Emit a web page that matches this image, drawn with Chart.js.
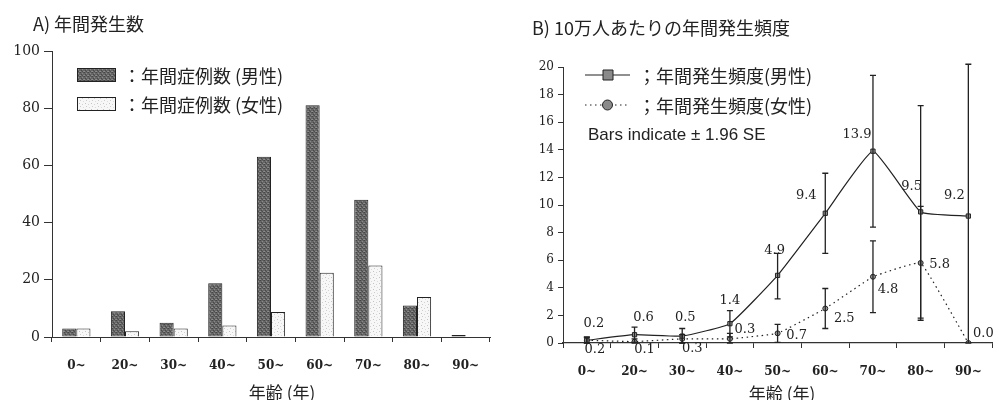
<!DOCTYPE html>
<html>
<head>
<meta charset="utf-8">
<script src="https://cdn.jsdelivr.net/npm/chart.js@4.4.1/dist/chart.umd.min.js"></script>
<style>
  body { margin: 0; background: #fff; }
  #wrap { position: relative; width: 999px; height: 400px; overflow: hidden; background: #fff; }
  #wrap canvas { position: absolute; top: 0; }
  .txt { position: absolute; font-family: "Noto Sans CJK JP", sans-serif; color: #222; white-space: nowrap; line-height: 1; }
</style>
</head>
<body>
<div id="wrap">
  <canvas id="countChart" width="500" height="400" style="left:0"></canvas>
  <canvas id="rateChart" width="499" height="400" style="left:500px"></canvas>
  <div class="txt" style="left:33px;top:14px;font-size:18px">A) 年間発生数</div>
  <div class="txt" style="left:532px;top:18px;font-size:18px">B) 10万人あたりの年間発生頻度</div>
  <div class="txt" style="left:282px;top:383px;font-size:17px;transform:translateX(-50%)">年齢 (年)</div>
  <div class="txt" style="left:782px;top:384px;font-size:17px;transform:translateX(-50%)">年齢 (年)</div>
</div>
<script>
// Age groups shared by both panels
const ageGroups = ['0~', '20~', '30~', '40~', '50~', '60~', '70~', '80~', '90~'];

// Panel A: annual number of cases
const maleCases   = [3, 9, 5, 18.8, 63, 81, 48, 11, 0.7];
const femaleCases = [3, 2, 3, 4, 8.7, 22.5, 25, 14, 0];
const countTicks  = [0, 20, 40, 60, 80, 100];

// Panel B: annual incidence per 100,000 with ±1.96 SE bounds
const maleRate      = [0.2, 0.6, 0.5, 1.4, 4.9, 9.4, 13.9, 9.5, 9.2];
const maleRateLow   = [0.0, 0.05, 0.0, 0.45, 3.2, 6.5, 8.4, 1.8, 0.0];
const maleRateHigh  = [0.45, 1.15, 1.05, 2.35, 6.5, 12.3, 19.4, 17.2, 20.2];
const femaleRate     = [0.2, 0.1, 0.3, 0.3, 0.7, 2.5, 4.8, 5.8, 0.0];
const femaleRateLow  = [0.0, 0.0, 0.0, 0.0, 0.05, 1.05, 2.2, 1.65, null];
const femaleRateHigh = [0.4, 0.3, 0.6, 0.7, 1.35, 3.95, 7.4, 9.9, null];
const rateTicks = [0, 2, 4, 6, 8, 10, 12, 14, 16, 18, 20];

// Where each value label sits relative to its point (dx, dy in px)
const maleLabelShift   = [[7,-17],[9,-17],[3,-18],[0,-23],[-3,-25],[-19,-18],[-16,-17],[-9,-25],[-14,-20]];
const femaleLabelShift = [[8,9],[10,8],[10,10],[15,-9],[19,2],[19,10],[15,13],[19,2],[15,-9]];

const INK = '#222';
const SERIF = 'DejaVu Serif';
const CJK = '"Noto Sans CJK JP"';

// Stippled fills imitating the halftone bar shading
function stipple(base, size, dots) {
  const c = document.createElement('canvas');
  c.width = c.height = size;
  const g = c.getContext('2d');
  g.fillStyle = base;
  g.fillRect(0, 0, size, size);
  dots.forEach(([x, y, col]) => { g.fillStyle = col; g.fillRect(x, y, 1, 1); });
  return g.createPattern(c, 'repeat');
}
const maleFill = stipple('#666', 4, [[0,0,'#454545'],[2,1,'#8a8a8a'],[1,2,'#484848'],[3,3,'#848484'],[3,0,'#555'],[0,3,'#8e8e8e'],[2,3,'#4e4e4e']]);
const femaleFill = stipple('#f7f7f7', 6, [[1,1,'#c4c4c4'],[4,2,'#d2d2d2'],[2,4,'#cccccc'],[5,5,'#dcdcdc']]);

// Hand-placed legend for panel A
const countLegend = {
  id: 'countLegend',
  afterDraw(chart, args, opts) {
    const ctx = chart.ctx;
    ctx.save();
    chart.data.datasets.forEach((ds, i) => {
      const y = opts.y + i * opts.gap;
      ctx.fillStyle = ds.backgroundColor;
      ctx.fillRect(opts.x, y - 6.5, 38, 13);
      ctx.strokeStyle = INK;
      ctx.lineWidth = 1;
      ctx.strokeRect(opts.x + 0.5, y - 6.5, 38, 13);
      ctx.fillStyle = INK;
      ctx.font = '18px ' + CJK;
      ctx.textBaseline = 'middle';
      ctx.fillText(ds.label, opts.x + 46, y + 1);
    });
    ctx.restore();
  }
};

// Hand-placed legend for panel B
const rateLegend = {
  id: 'rateLegend',
  afterDraw(chart, args, opts) {
    const ctx = chart.ctx;
    ctx.save();
    chart.data.datasets.forEach((ds, i) => {
      const y = opts.y + i * opts.gap;
      ctx.strokeStyle = INK;
      ctx.lineWidth = 1.2;
      ctx.setLineDash(ds.borderDash || []);
      ctx.beginPath();
      ctx.moveTo(opts.x, y);
      ctx.lineTo(opts.x + 45, y);
      ctx.stroke();
      ctx.setLineDash([]);
      ctx.fillStyle = '#8a8a8a';
      ctx.beginPath();
      if (ds.pointStyle === 'rect') ctx.rect(opts.x + 18, y - 5, 10, 10);
      else ctx.arc(opts.x + 22.5, y, 5, 0, Math.PI * 2);
      ctx.fill();
      ctx.lineWidth = 1;
      ctx.stroke();
      ctx.fillStyle = INK;
      ctx.font = '18px ' + CJK;
      ctx.textBaseline = 'middle';
      ctx.fillText(ds.label, opts.x + 53, y + 1);
    });
    ctx.font = '17px "Liberation Sans"';
    ctx.textBaseline = 'middle';
    ctx.fillText(opts.note, opts.x + 3, opts.y + 2 * opts.gap);
    ctx.restore();
  }
};

// ±1.96 SE whiskers
const errorBars = {
  id: 'errorBars',
  afterDatasetsDraw(chart, args, opts) {
    const ctx = chart.ctx;
    const ys = chart.scales.y;
    ctx.save();
    ctx.strokeStyle = INK;
    ctx.lineWidth = 1.3;
    opts.sets.forEach(set => {
      const meta = chart.getDatasetMeta(set.dataset);
      meta.data.forEach((pt, i) => {
        if (set.low[i] == null || set.high[i] == null) return;
        const yl = ys.getPixelForValue(set.low[i]);
        const yh = ys.getPixelForValue(set.high[i]);
        ctx.beginPath();
        ctx.moveTo(pt.x, yl); ctx.lineTo(pt.x, yh);
        ctx.moveTo(pt.x - 3, yl); ctx.lineTo(pt.x + 3, yl);
        ctx.moveTo(pt.x - 3, yh); ctx.lineTo(pt.x + 3, yh);
        ctx.stroke();
      });
    });
    ctx.restore();
  }
};

// Value labels next to each point
const valueLabels = {
  id: 'valueLabels',
  afterDraw(chart, args, opts) {
    const ctx = chart.ctx;
    ctx.save();
    ctx.fillStyle = INK;
    ctx.font = '13px ' + SERIF;
    ctx.textAlign = 'center';
    ctx.textBaseline = 'middle';
    opts.sets.forEach(set => {
      const meta = chart.getDatasetMeta(set.dataset);
      const values = chart.data.datasets[set.dataset].data;
      meta.data.forEach((pt, i) => {
        const [dx, dy] = set.shift[i];
        ctx.fillText(values[i].toFixed(1), pt.x + dx, pt.y + dy);
      });
    });
    ctx.restore();
  }
};

Chart.defaults.animation = false;
Chart.defaults.color = INK;

new Chart(document.getElementById('countChart'), {
  type: 'bar',
  data: {
    labels: ageGroups,
    datasets: [
      { label: '：年間症例数 (男性)', data: maleCases, backgroundColor: maleFill, borderColor: INK, borderWidth: 1, borderSkipped: false },
      { label: '：年間症例数 (女性)', data: femaleCases, backgroundColor: femaleFill, borderColor: INK, borderWidth: 1 }
    ]
  },
  options: {
    responsive: false,
    devicePixelRatio: 1,
    layout: { padding: { top: 51, right: 10, left: 0, bottom: 0 } },
    datasets: { bar: { categoryPercentage: 0.58, barPercentage: 1.0 } },
    plugins: {
      legend: { display: false },
      tooltip: { enabled: false },
      countLegend: { x: 77, y: 75, gap: 29 }
    },
    scales: {
      x: {
        grid: { offset: true, drawOnChartArea: false, tickLength: 5, color: '#333' },
        border: { color: '#333', width: 1 },
        ticks: { font: { family: SERIF, size: 12, weight: 'bold' }, color: INK, padding: 17, maxRotation: 0, autoSkip: false },
        afterFit(s) { s.height = 63; }
      },
      y: {
        min: 0, max: 100,
        afterBuildTicks(s) { s.ticks = countTicks.map(v => ({ value: v })); },
        grid: { drawOnChartArea: false, tickLength: 8, color: '#333' },
        border: { color: '#333', width: 1 },
        ticks: { font: { family: SERIF, size: 14 }, color: INK, padding: 4 },
        afterFit(s) { s.width = 52; }
      }
    }
  },
  plugins: [countLegend]
});

new Chart(document.getElementById('rateChart'), {
  type: 'line',
  data: {
    labels: ageGroups,
    datasets: [
      { label: '；年間発生頻度(男性)', data: maleRate, borderColor: INK, borderWidth: 1.2, tension: 0.12,
        pointStyle: 'rect', pointRadius: 3, pointBackgroundColor: '#999', pointBorderColor: INK, pointBorderWidth: 1 },
      { label: '；年間発生頻度(女性)', data: femaleRate, borderColor: INK, borderWidth: 1.2, borderDash: [1.5, 3.5], tension: 0.08,
        pointStyle: 'circle', pointRadius: 2.5, pointBackgroundColor: '#999', pointBorderColor: INK, pointBorderWidth: 1 }
    ]
  },
  options: {
    responsive: false,
    devicePixelRatio: 1,
    layout: { padding: { top: 67, right: 0, left: 0, bottom: 0 } },
    plugins: {
      legend: { display: false },
      tooltip: { enabled: false },
      rateLegend: { x: 85, y: 75, gap: 30, note: 'Bars indicate ± 1.96 SE' },
      errorBars: { sets: [
        { dataset: 0, low: maleRateLow, high: maleRateHigh },
        { dataset: 1, low: femaleRateLow, high: femaleRateHigh }
      ] },
      valueLabels: { sets: [
        { dataset: 0, shift: maleLabelShift },
        { dataset: 1, shift: femaleLabelShift }
      ] }
    },
    scales: {
      x: {
        offset: true,
        grid: { offset: true, drawOnChartArea: false, tickLength: 5, color: '#333' },
        border: { color: '#333', width: 1.2 },
        ticks: { font: { family: SERIF, size: 12, weight: 'bold' }, color: INK, padding: 17, maxRotation: 0, autoSkip: false },
        afterFit(s) { s.height = 57; }
      },
      y: {
        min: 0, max: 20,
        afterBuildTicks(s) { s.ticks = rateTicks.map(v => ({ value: v })); },
        grid: { drawOnChartArea: false, tickLength: 5, color: '#333' },
        border: { color: '#333', width: 1 },
        ticks: { font: { family: SERIF, size: 12 }, color: INK, padding: 4 },
        afterFit(s) { s.width = 63; }
      }
    }
  },
  plugins: [rateLegend, errorBars, valueLabels]
});
</script>
</body>
</html>
